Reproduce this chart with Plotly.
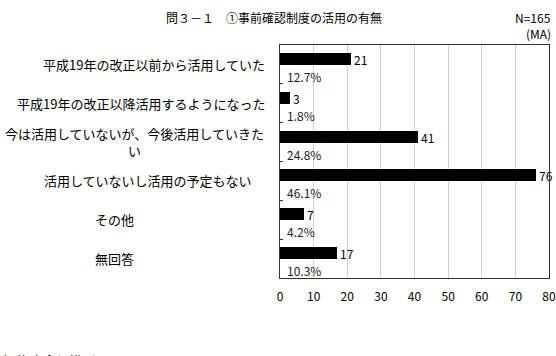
import plotly.graph_objects as go

categories = [
    "平成19年の改正以前から活用していた",
    "平成19年の改正以降活用するようになった",
    "今は活用していないが、今後活用していきた<br>い",
    "活用していないし活用の予定もない",
    "その他",
    "無回答",
]
counts = [21, 3, 41, 76, 7, 17]
percents = ["12.7%", "1.8%", "24.8%", "46.1%", "4.2%", "10.3%"]
x_ticks = [0, 10, 20, 30, 40, 50, 60, 70, 80]

FONT = "Noto Sans CJK JP"
W, H = 556, 356
L, R, T, B = 280, 7, 45, 78
PW, PH = W - L - R, H - T - B


def px_x(px):
    return (px - L) / PW


def px_y(py):
    return 1 - (py - T) / PH


# label centre x positions (px) for category annotations (layout only)
label_cx = [154, 141, 134, 148, 114, 114]

fig = go.Figure()
fig.add_trace(go.Bar(
    y=list(range(len(categories))),
    x=counts,
    orientation="h",
    marker=dict(color="black", line=dict(width=0)),
    width=0.31,
    offset=-0.296,
    text=[str(c) for c in counts],
    textposition="outside",
    constraintext="none",
    textfont=dict(family=FONT, size=12, color="black"),
    cliponaxis=False,
    showlegend=False,
))

ann = []
for i, (cat, cx) in enumerate(zip(categories, label_cx)):
    ann.append(dict(
        x=px_x(cx), xref="paper", y=i, yref="y",
        text=cat, showarrow=False, xanchor="center", yanchor="middle",
        align="center", font=dict(family=FONT, size=13, color="black"),
    ))
for i, p in enumerate(percents):
    ann.append(dict(
        x=1.6, xref="x", y=i + 0.31, yref="y",
        text=p, showarrow=False, xanchor="left", yanchor="middle",
        font=dict(family=FONT, size=12, color="#222"),
    ))
ann.append(dict(x=px_x(274), y=px_y(17), xref="paper", yref="paper",
                text="問３－１　①事前確認制度の活用の有無", showarrow=False,
                xanchor="center", yanchor="middle",
                font=dict(family=FONT, size=12, color="black")))
ann.append(dict(x=px_x(553), y=px_y(17), xref="paper", yref="paper",
                text="N=165", showarrow=False, xanchor="right", yanchor="middle",
                font=dict(family=FONT, size=12, color="black")))
ann.append(dict(x=px_x(553), y=px_y(33), xref="paper", yref="paper",
                text="(MA)", showarrow=False, xanchor="right", yanchor="middle",
                font=dict(family=FONT, size=12, color="black")))
ann.append(dict(x=px_x(2), y=px_y(349), xref="paper", yref="paper",
                text="）資本金規模別", showarrow=False, xanchor="left", yanchor="top",
                font=dict(family=FONT, size=13, color="black")))

fig.update_layout(
    width=W, height=H, autosize=False,
    margin=dict(l=L, r=R, t=T, b=B, pad=0, autoexpand=False),
    paper_bgcolor="white", plot_bgcolor="white",
    annotations=ann,
    xaxis=dict(
        range=[0, 80], tickvals=x_ticks, ticktext=[str(v) for v in x_ticks],
        showgrid=True, gridcolor="#cfcfcf", gridwidth=1,
        showline=True, linecolor="#333", linewidth=1, mirror=True,
        ticks="", zeroline=False, automargin=False,
        tickfont=dict(family=FONT, size=12, color="black"),
        ticklabelstandoff=8,
    ),
    yaxis=dict(
        range=[5.5, -0.5], tickvals=[i + 0.5 for i in range(len(categories) - 1)],
        showticklabels=False, ticks="inside", ticklen=3, tickcolor="#333",
        showgrid=False, zeroline=False, automargin=False,
        showline=True, linecolor="#333", linewidth=1, mirror=True,
    ),
    bargap=0,
)

fig.write_html("out.html", config={"responsive": False})
